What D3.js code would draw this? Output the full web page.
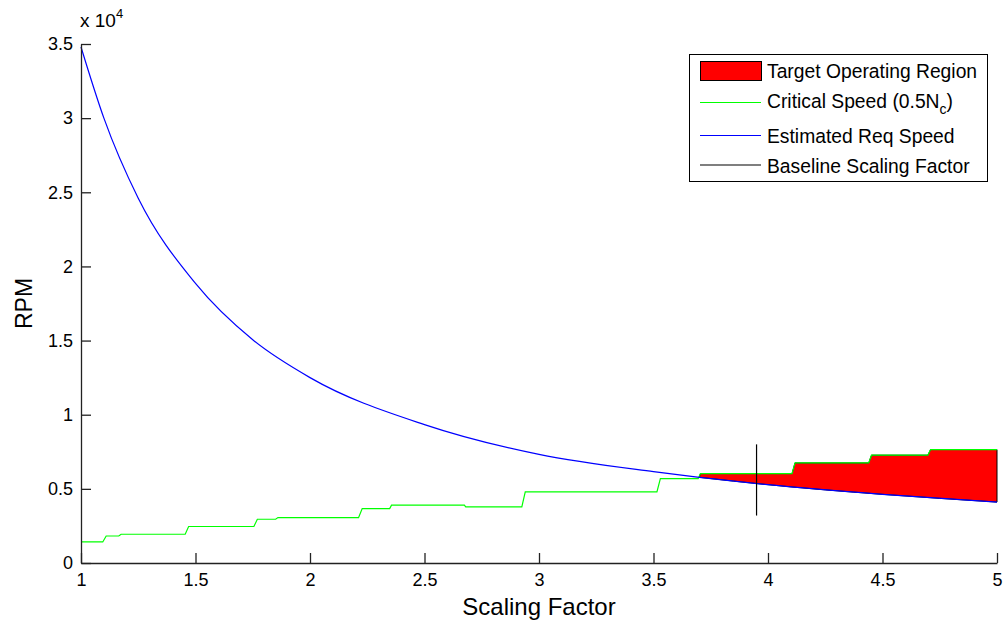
<!DOCTYPE html>
<html>
<head>
<meta charset="utf-8">
<script src="https://cdn.jsdelivr.net/npm/d3@7"></script>
<style>
  body { margin: 0; background: #fff; }
  text { font-family: "Liberation Sans", Arial, sans-serif; fill: #000; }
</style>
</head>
<body>
<svg id="chart"></svg>
<script>
(function () {
    "use strict";

    // estimated required speed (blue)
    var reqX = [1.0, 1.1, 1.25, 1.5, 1.75, 2.0, 2.5, 3.0, 3.5, 3.7, 4.0, 4.5, 5.0];
    var reqRpm = [34800, 30000, 24600, 18850, 15050, 12500, 9330, 7320, 6160, 5780, 5280, 4630, 4110];

    // critical speed 0.5Nc (green), stepwise
    var critX = [1.0, 1.095, 1.11, 1.165, 1.175, 1.455, 1.47, 1.755, 1.77, 1.85, 1.86, 2.212, 2.228, 2.348, 2.356, 2.674, 2.68, 2.925, 2.94, 3.515, 3.53, 3.695, 3.705, 4.105, 4.118, 4.44, 4.452, 4.698, 4.71, 5.0];
    var critRpm = [1420, 1420, 1820, 1820, 1940, 1940, 2460, 2460, 2950, 2950, 3060, 3060, 3670, 3670, 3900, 3900, 3780, 3780, 4790, 4790, 5690, 5690, 6030, 6030, 6750, 6750, 7270, 7270, 7650, 7650];

    var regionStart = 3.7;
    var baselineX = 3.95;
    var baselineRpm = [3200, 8000];

    var xTicks = [1, 1.5, 2, 2.5, 3, 3.5, 4, 4.5, 5];
    var yTicks = [0, 5000, 10000, 15000, 20000, 25000, 30000, 35000];
    var legendLabels = ["Target Operating Region", "Critical Speed (0.5N", "Estimated Req Speed", "Baseline Scaling Factor"];

    var dim = { width: 1005, height: 624 };
    var plot = { left: 81, right: 997, top: 44, bottom: 563 };

    var x = d3.scaleLinear().domain([1, 5]).range([plot.left, plot.right]);
    var y = d3.scaleLinear().domain([0, 35000]).range([plot.bottom, plot.top]);

    var svg = d3.select("#chart")
        .attr("width", dim.width)
        .attr("height", dim.height);

    var req = reqX.map(function (d, i) { return [d, reqRpm[i]]; });
    var crit = critX.map(function (d, i) { return [d, critRpm[i]]; });

    var reqLine = d3.line().curve(d3.curveMonotoneX)
        .x(function (d) { return x(d[0]); })
        .y(function (d) { return y(d[1]); });
    var critLine = d3.line()
        .x(function (d) { return x(d[0]); })
        .y(function (d) { return y(d[1]); });

    // red region between green (top) and blue (bottom)
    var top = crit.filter(function (d) { return d[0] >= regionStart - 1e-9; });
    var bottom = req.filter(function (d) { return d[0] >= regionStart - 1e-9; }).reverse();
    var regionPath = critLine([[regionStart, reqRpm[reqX.indexOf(regionStart)]]].concat(top))
        + "L" + reqLine(bottom).slice(1) + "Z";

    svg.append("path")
        .attr("d", regionPath)
        .attr("fill", "#ff0000")
        .attr("stroke", "#000")
        .attr("stroke-width", 1);

    svg.append("path").datum(crit)
        .attr("d", critLine)
        .attr("fill", "none")
        .attr("stroke", "#00ff00")
        .attr("stroke-width", 1.2);

    svg.append("path").datum(req)
        .attr("d", reqLine)
        .attr("fill", "none")
        .attr("stroke", "#0000ff")
        .attr("stroke-width", 1.2);

    svg.append("line")
        .attr("x1", x(baselineX)).attr("x2", x(baselineX))
        .attr("y1", y(baselineRpm[0])).attr("y2", y(baselineRpm[1]))
        .attr("stroke", "#000")
        .attr("stroke-width", 1.2);

    // axes, ticks inward
    var xAxis = d3.axisBottom(x).tickValues(xTicks).tickSizeInner(-10).tickSizeOuter(0).tickPadding(10)
        .tickFormat(d3.format("~g"));
    var yAxis = d3.axisLeft(y).tickValues(yTicks).tickSizeInner(-10).tickSizeOuter(0).tickPadding(8)
        .tickFormat(function (d) { return d3.format("~g")(d / 10000); });

    var gx = svg.append("g")
        .attr("transform", "translate(0," + plot.bottom + ")")
        .call(xAxis);
    var gy = svg.append("g")
        .attr("transform", "translate(" + plot.left + ",0)")
        .call(yAxis);
    [gx, gy].forEach(function (g) {
        g.select(".domain").attr("stroke", "#222").attr("stroke-width", 1.3);
        g.selectAll(".tick line").attr("stroke", "#222").attr("stroke-width", 1.3);
        g.selectAll(".tick text")
            .style("font-family", "'Liberation Sans', Arial, sans-serif")
            .style("font-size", "18px")
            .attr("fill", "#000");
    });

    // exponent label
    var expo = svg.append("text")
        .attr("x", plot.left - 1)
        .attr("y", 27)
        .style("font-size", "19px");
    expo.append("tspan").text("x 10");
    expo.append("tspan").attr("dy", -9).style("font-size", "13px").text("4");

    svg.append("text")
        .attr("x", (plot.left + plot.right) / 2)
        .attr("y", 615)
        .attr("text-anchor", "middle")
        .style("font-size", "24px")
        .text("Scaling Factor");

    svg.append("text")
        .attr("transform", "translate(32," + ((plot.top + plot.bottom) / 2) + ") rotate(-90)")
        .attr("text-anchor", "middle")
        .style("font-size", "23px")
        .text("RPM");

    // legend
    var legend = svg.append("g");
    legend.append("rect")
        .attr("x", 689.5).attr("y", 54.5)
        .attr("width", 298).attr("height", 127)
        .attr("fill", "#fff")
        .attr("stroke", "#000");

    var rowBase = [78, 108, 143, 173];
    var rowMid = [71, 102.5, 135.5, 165];
    legend.append("rect")
        .attr("x", 700.5).attr("y", 61.5)
        .attr("width", 61).attr("height", 19)
        .attr("fill", "#ff0000")
        .attr("stroke", "#000");
    var lineColors = [null, "#00ff00", "#0000ff", "#000"];
    lineColors.forEach(function (c, i) {
        if (!c) return;
        legend.append("line")
            .attr("x1", 700).attr("x2", 761)
            .attr("y1", rowMid[i]).attr("y2", rowMid[i])
            .attr("stroke", c)
            .attr("stroke-width", 1.2);
    });
    legendLabels.forEach(function (t, i) {
        var txt = legend.append("text")
            .attr("x", 767)
            .attr("y", rowBase[i])
            .style("font-size", "19.3px");
        txt.append("tspan").text(t);
        if (i === 1) {
            txt.append("tspan").attr("dy", 6).style("font-size", "14px").text("c");
            txt.append("tspan").attr("dy", -6).text(")");
        }
    });
})();
</script>
</body>
</html>
